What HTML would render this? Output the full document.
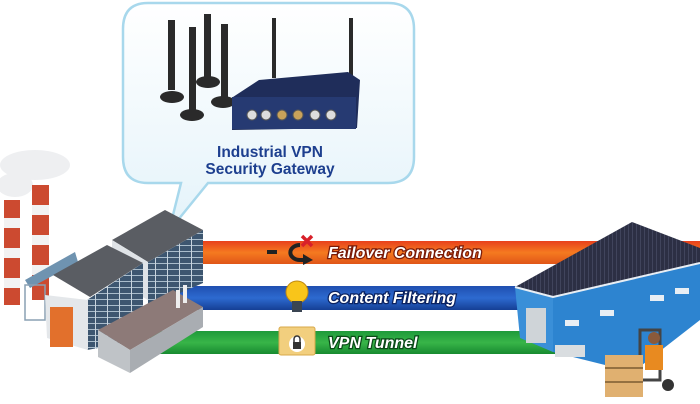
<!DOCTYPE html>
<html><head><meta charset="utf-8"><style>
body{margin:0;background:#fff;width:700px;height:404px;overflow:hidden}
svg{display:block}
.lbl{font-family:"Liberation Sans",sans-serif;font-weight:bold;font-style:italic;font-size:16px;fill:#fff;paint-order:stroke;stroke-width:2.5px}
</style></head><body>
<svg width="700" height="404" viewBox="0 0 700 404">
<defs>
<linearGradient id="cg" x1="0" y1="0" x2="0" y2="1"><stop offset="0" stop-color="#fff"/><stop offset="1" stop-color="#e4f3fa"/></linearGradient>
<linearGradient id="og" x1="0" y1="0" x2="0" y2="1"><stop offset="0" stop-color="#e8401c"/><stop offset=".5" stop-color="#f57a20"/><stop offset="1" stop-color="#e05518"/></linearGradient>
<linearGradient id="bg" x1="0" y1="0" x2="0" y2="1"><stop offset="0" stop-color="#1f4fb0"/><stop offset=".5" stop-color="#2d6ad0"/><stop offset="1" stop-color="#153f95"/></linearGradient>
<linearGradient id="gg" x1="0" y1="0" x2="0" y2="1"><stop offset="0" stop-color="#1e9a3a"/><stop offset=".5" stop-color="#38b548"/><stop offset="1" stop-color="#178a30"/></linearGradient>
<pattern id="win" width="12" height="6" patternUnits="userSpaceOnUse"><rect width="12" height="6" fill="#3d5670"/><rect y="5" width="12" height="1" fill="#a9bccb"/><rect x="11" width="1" height="6" fill="#c8d4de"/></pattern>
<pattern id="roofp" width="4" height="4" patternUnits="userSpaceOnUse"><rect width="4" height="4" fill="#2c2f44"/><rect width="1" height="4" fill="#40445c"/></pattern>
</defs>
<rect x="190" y="241" width="510" height="23" fill="url(#og)"/>
<rect x="170" y="286" width="380" height="24" fill="url(#bg)"/>
<rect x="150" y="331" width="410" height="23" fill="url(#gg)"/>
<text x="328" y="258" class="lbl" stroke="#7a1a08">Failover Connection</text>
<text x="328" y="303" class="lbl" stroke="#0b2260">Content Filtering</text>
<text x="328" y="348" class="lbl" stroke="#0a4a18">VPN Tunnel</text>
<path d="M267 252h10M300 245a9 7 0 1 0 0 15h4" fill="none" stroke="#222" stroke-width="4"/>
<path d="M303 254l10 6-10 5z" fill="#222"/>
<path d="M302 236l10 10M312 236l-10 10" stroke="#d8202a" stroke-width="3.5"/>
<circle cx="297" cy="292" r="11" fill="#f8c51a" stroke="#c08a10"/>
<rect x="292" y="301" width="10" height="11" fill="#3a4552"/>
<rect x="279" y="327" width="36" height="28" rx="2" fill="#f2cf7e" stroke="#d8a94a"/>
<circle cx="297" cy="344" r="8" fill="#fff"/>
<rect x="293" y="342" width="8" height="7" fill="#333"/>
<path d="M294 342v-3a3 3 0 0 1 6 0v3" fill="none" stroke="#333" stroke-width="1.5"/>
<path d="M148 3H388Q414 3 414 29V157Q414 183 388 183H208L169 231L181 183H148Q123 183 123 157V29Q123 3 148 3Z" fill="url(#cg)" stroke="#a8d8ec" stroke-width="2.5"/>
<g fill="#2a2a2a">
<rect x="168" y="20" width="7" height="70"/><ellipse cx="172" cy="97" rx="12" ry="6"/>
<rect x="189" y="27" width="7" height="84"/><ellipse cx="192" cy="115" rx="12" ry="6"/>
<rect x="204" y="14" width="7" height="64"/><ellipse cx="208" cy="82" rx="12" ry="6"/>
<rect x="221" y="24" width="7" height="75"/><ellipse cx="223" cy="102" rx="12" ry="6"/>
<rect x="272" y="18" width="4" height="60"/><rect x="349" y="18" width="4" height="60"/>
</g>
<path d="M259 80L348 72L360 80L357 128L232 130L233 97Z" fill="#1f2d5a"/>
<rect x="232" y="97" width="124" height="32" fill="#263a72"/>
<g fill="#ddd" stroke="#555"><circle cx="252" cy="115" r="5"/><circle cx="266" cy="115" r="5"/><circle cx="282" cy="115" r="5" fill="#c9a25a"/><circle cx="298" cy="115" r="5" fill="#c9a25a"/><circle cx="315" cy="115" r="5"/><circle cx="331" cy="115" r="5"/></g>
<text x="270" y="157" text-anchor="middle" font-family="Liberation Sans,sans-serif" font-weight="bold" font-size="15.5" fill="#1d3f8f">Industrial VPN</text>
<text x="270" y="174" text-anchor="middle" font-family="Liberation Sans,sans-serif" font-weight="bold" font-size="15.5" fill="#1d3f8f">Security Gateway</text>
<!-- factory -->
<ellipse cx="35" cy="165" rx="35" ry="15" fill="#eeeff1"/>
<ellipse cx="15" cy="185" rx="18" ry="12" fill="#eeeff1"/>
<rect x="4" y="200" width="16" height="105" fill="#cc4a30"/>
<rect x="32" y="185" width="17" height="115" fill="#cc4a30"/>
<g fill="#f2f2f2"><rect x="4" y="218" width="16" height="10"/><rect x="4" y="248" width="16" height="10"/><rect x="4" y="278" width="16" height="10"/><rect x="32" y="205" width="17" height="10"/><rect x="32" y="235" width="17" height="10"/><rect x="32" y="265" width="17" height="10"/></g>
<path d="M25 280L75 252L78 262L30 288Z" fill="#6f93b0"/>
<rect x="25" y="285" width="20" height="35" fill="none" stroke="#8aa0b3" stroke-width="1.5"/>
<path d="M148 262L203 230L203 283L148 307Z" fill="url(#win)"/>
<path d="M112 240L165 210L203 230L148 262Z" fill="#5a5d63"/>
<path d="M112 240L148 262L148 300L112 280Z" fill="#dfe3e7"/>
<path d="M87 300L143 263L143 340L87 350Z" fill="url(#win)"/>
<path d="M53 275L107 245L143 263L90 297Z" fill="#5a5d63"/>
<path d="M45 295L88 300L88 350L47 338Z" fill="#e4e7ea"/>
<rect x="50" y="307" width="23" height="40" fill="#e2702c"/>
<path d="M98 330L173 290L203 307L130 350Z" fill="#8d7a78"/>
<path d="M98 330L130 350L130 373L98 357Z" fill="#bfc3c7"/>
<path d="M130 350L203 307L203 327L130 373Z" fill="#a9adb2"/>
<rect x="176" y="290" width="4" height="18" fill="#eee"/><rect x="183" y="285" width="4" height="18" fill="#eee"/>
<!-- warehouse -->
<path d="M553 297L700 263L700 320L633 372L553 352Z" fill="#2d84d0"/>
<path d="M515 287L553 297L553 352L520 338Z" fill="#3a8fd8"/>
<path d="M515 287L632 222L700 248L700 263L553 297Z" fill="url(#roofp)"/>
<path d="M515 287L553 297L700 263" fill="none" stroke="#e8eef4" stroke-width="2"/>
<rect x="526" y="308" width="20" height="35" fill="#cfd4d8"/>
<g fill="#e8eef4"><rect x="565" y="320" width="14" height="6"/><rect x="600" y="310" width="14" height="6"/><rect x="650" y="295" width="14" height="6"/><rect x="675" y="288" width="14" height="6"/></g>
<rect x="555" y="345" width="30" height="12" fill="#d9dde0"/>
<path d="M640 330h20v50h-20z" fill="none" stroke="#444" stroke-width="3"/>
<rect x="645" y="345" width="18" height="25" fill="#e88a20"/>
<circle cx="654" cy="338" r="6" fill="#8a5a3a"/>
<circle cx="668" cy="385" r="6" fill="#333"/>
<rect x="605" y="355" width="38" height="42" fill="#e0b070"/>
<path d="M605 368h38M605 382h38" stroke="#7a5a30" stroke-width="1.5"/>
</svg>
</body></html>
